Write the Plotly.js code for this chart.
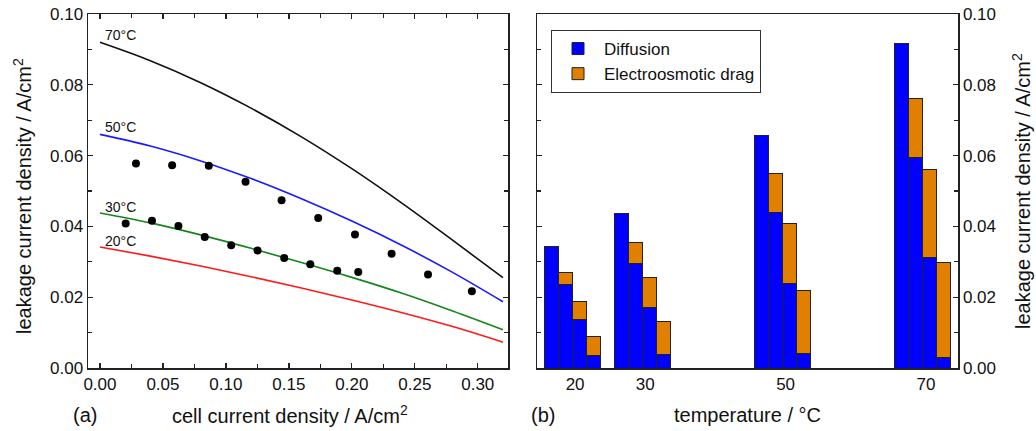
<!DOCTYPE html>
<html>
<head>
<meta charset="utf-8">
<script src="https://cdn.plot.ly/plotly-3.0.1.min.js"></script>
<style>html,body{margin:0;padding:0;background:#fff;}#chart{width:1036px;height:431px;}</style>
</head>
<body>
<div id="chart"></div>
<script>
// ---- Panel (a): model curves (leakage vs cell current density) ----
const curveX = [0, 0.04, 0.08, 0.12, 0.16, 0.20, 0.24, 0.28, 0.32];
const curve70 = [0.0920, 0.0868, 0.0806, 0.0734, 0.0653, 0.0563, 0.0465, 0.0361, 0.0255];
const curve50 = [0.0660, 0.0627, 0.0585, 0.0535, 0.0478, 0.0415, 0.0346, 0.0270, 0.0187];
const curve30 = [0.0438, 0.0410, 0.0376, 0.0338, 0.0298, 0.0256, 0.0211, 0.0161, 0.0108];
const curve20 = [0.0342, 0.0316, 0.0288, 0.0258, 0.0226, 0.0192, 0.0156, 0.0117, 0.0073];
const curveLabels = ['70°C', '50°C', '30°C', '20°C'];
const curveLabelY = [0.0941, 0.0682, 0.0456, 0.0360];

// measured points
const measAx = [0.0286, 0.0573, 0.0864, 0.1156, 0.1442, 0.1733, 0.2025, 0.2316, 0.2605, 0.2953];
const measAy = [0.0578, 0.0573, 0.0571, 0.0526, 0.0474, 0.0424, 0.0377, 0.0323, 0.0264, 0.0217];
const measBx = [0.0204, 0.0413, 0.0623, 0.0832, 0.1042, 0.1251, 0.1463, 0.1670, 0.1884, 0.2051];
const measBy = [0.0408, 0.0416, 0.0401, 0.0370, 0.0347, 0.0332, 0.0311, 0.0293, 0.0275, 0.0271];

// ---- Panel (b): stacked bars per temperature, 4 current-density levels ----
const temperatures = [20, 30, 50, 70];
const diffusion = [
  [0.0342, 0.0236, 0.0137, 0.0034],
  [0.0436, 0.0296, 0.0171, 0.0038],
  [0.0658, 0.0439, 0.0239, 0.0041],
  [0.0917, 0.0596, 0.0311, 0.0030]
];
const totals = [
  [0.0342, 0.0270, 0.0189, 0.0088],
  [0.0436, 0.0354, 0.0257, 0.0131],
  [0.0658, 0.0550, 0.0407, 0.0219],
  [0.0917, 0.0760, 0.0561, 0.0299]
];
const seriesNames = ['Diffusion', 'Electroosmotic drag'];

const FONT = 'Liberation Sans, Arial, Helvetica, sans-serif';
const barW = 2;
const bx = [], bDiff = [], bDrag = [];
temperatures.forEach((T, i) => {
  for (let k = 0; k < 4; k++) {
    bx.push(T + (k - 1.5) * barW);
    bDiff.push(diffusion[i][k]);
    bDrag.push(+(totals[i][k] - diffusion[i][k]).toFixed(4));
  }
});

const lineColors = ['#111111', '#1a1aff', '#14861a', '#ff1a1a'];
const curves = [curve70, curve50, curve30, curve20];
const traces = [];
curves.forEach((c, i) => {
  traces.push({x: curveX, y: c, type: 'scatter', mode: 'lines', line: {color: lineColors[i], width: 1.6, shape: 'spline', smoothing: 1}, showlegend: false, xaxis: 'x', yaxis: 'y', hoverinfo: 'skip'});
});
traces.push({x: measAx, y: measAy, type: 'scatter', mode: 'markers', marker: {color: '#000', size: 8}, showlegend: false, xaxis: 'x', yaxis: 'y'});
traces.push({x: measBx, y: measBy, type: 'scatter', mode: 'markers', marker: {color: '#000', size: 8}, showlegend: false, xaxis: 'x', yaxis: 'y'});
traces.push({x: bx, y: bDiff, type: 'bar', name: seriesNames[0], width: barW, marker: {color: '#0000ff', line: {color: '#222', width: 1}}, xaxis: 'x2', yaxis: 'y2'});
traces.push({x: bx, y: bDrag, type: 'bar', name: seriesNames[1], width: barW, marker: {color: '#e07f00', line: {color: '#222', width: 1}}, xaxis: 'x2', yaxis: 'y2'});

const axCommon = {showline: true, linecolor: '#222', linewidth: 1.5, mirror: 'ticks', ticks: 'inside', ticklen: 5, tickwidth: 1.3, tickcolor: '#222', showgrid: false, zeroline: false, automargin: false, tickfont: {family: FONT, size: 17, color: '#111'}};

const P = (px) => px / 1036;
const Q = (py) => 1 - py / 431;

const annotations = [];
curveLabels.forEach((t, i) => {
  annotations.push({text: t, x: 0.0165, y: curveLabelY[i], xref: 'x', yref: 'y', showarrow: false, xanchor: 'center', yanchor: 'middle', font: {family: FONT, size: 14, color: '#111'}});
});
const titleFont = {family: FONT, size: 20, color: '#111'};
annotations.push({text: 'leakage current density / A/cm<sup>2</sup>', x: P(22), y: Q(196), xref: 'paper', yref: 'paper', textangle: -90, showarrow: false, xanchor: 'center', yanchor: 'middle', font: titleFont});
annotations.push({text: 'cell current density / A/cm<sup>2</sup>', x: P(290), y: Q(414), xref: 'paper', yref: 'paper', showarrow: false, xanchor: 'center', yanchor: 'middle', font: titleFont});
annotations.push({text: '(a)', x: P(85), y: Q(415), xref: 'paper', yref: 'paper', showarrow: false, xanchor: 'center', yanchor: 'middle', font: titleFont});
annotations.push({text: '(b)', x: P(543), y: Q(415), xref: 'paper', yref: 'paper', showarrow: false, xanchor: 'center', yanchor: 'middle', font: titleFont});
annotations.push({text: 'temperature / °C', x: P(747), y: Q(415), xref: 'paper', yref: 'paper', showarrow: false, xanchor: 'center', yanchor: 'middle', font: titleFont});
annotations.push({text: 'leakage current density / A/cm<sup>2</sup>', x: P(1021), y: Q(191), xref: 'paper', yref: 'paper', textangle: -90, showarrow: false, xanchor: 'center', yanchor: 'middle', font: titleFont});

const layout = {
  width: 1036, height: 431,
  margin: {l: 0, r: 0, t: 0, b: 0, pad: 0, autoexpand: false},
  paper_bgcolor: '#fff', plot_bgcolor: '#fff',
  font: {family: FONT, color: '#111'},
  barmode: 'stack',
  xaxis: Object.assign({}, axCommon, {domain: [P(88), P(508)], range: [-0.0095, 0.324], dtick: 0.05, tick0: 0, tickformat: '.2f', anchor: 'y', minor: {dtick: 0.025, ticks: 'inside', ticklen: 4, tickcolor: '#222', tickwidth: 1.3}}),
  yaxis: Object.assign({}, axCommon, {domain: [Q(368), Q(14)], range: [0, 0.1], dtick: 0.02, tick0: 0, tickformat: '.2f', anchor: 'x', minor: {dtick: 0.01, ticks: 'inside', ticklen: 4, tickcolor: '#222', tickwidth: 1.3}}),
  xaxis2: Object.assign({}, axCommon, {domain: [P(537), P(958)], range: [15, 75], tickvals: temperatures, ticktext: temperatures.map(String), ticks: '', mirror: true, anchor: 'y2', ticklabelshift: 3}),
  yaxis2: Object.assign({}, axCommon, {domain: [Q(368), Q(14)], range: [0, 0.1], dtick: 0.02, tick0: 0, tickformat: '.2f', side: 'right', anchor: 'x2', minor: {dtick: 0.01, ticks: 'inside', ticklen: 4, tickcolor: '#222', tickwidth: 1.3}}),
  legend: {x: P(551), y: Q(30), xanchor: 'left', yanchor: 'top', bordercolor: '#333', borderwidth: 1, bgcolor: '#fff', itemwidth: 42, font: {family: FONT, size: 17, color: '#111'}, traceorder: 'normal', tracegroupgap: 0},
  annotations: annotations,
  showlegend: true
};

Plotly.newPlot('chart', traces, layout, {displayModeBar: false, staticPlot: true});
</script>
</body>
</html>
